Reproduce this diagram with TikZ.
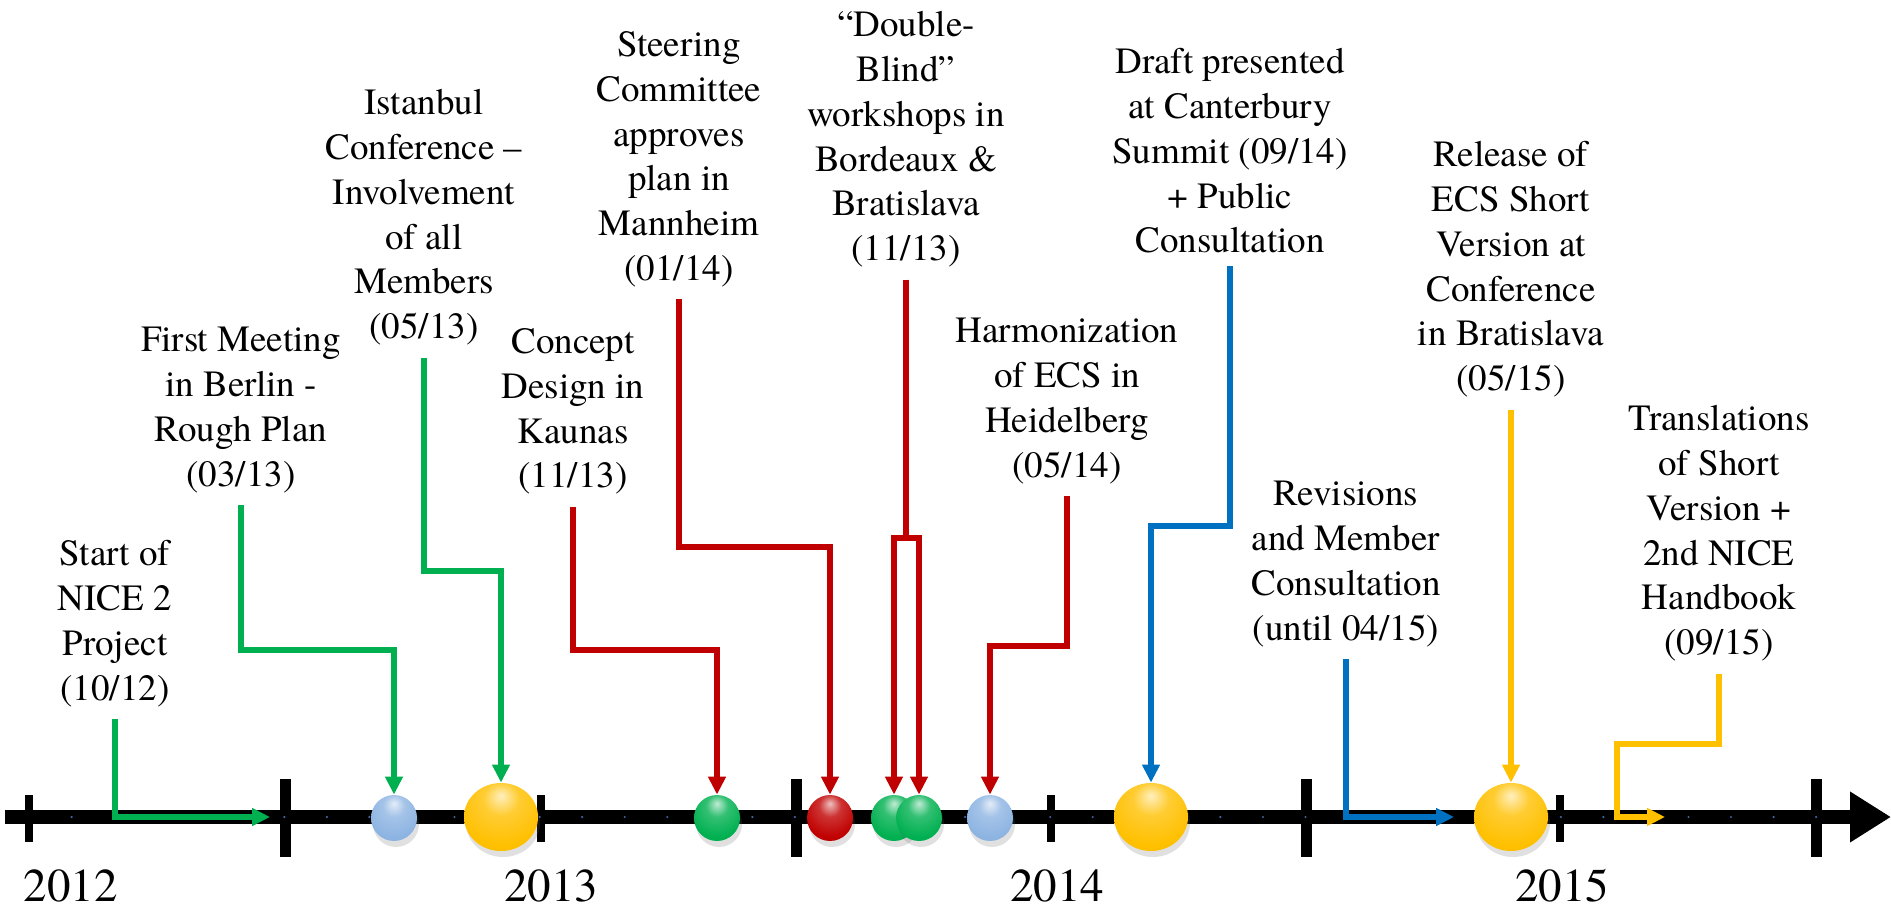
\documentclass[tikz,border=0pt]{standalone}
\usepackage{fontspec}
\setmainfont{texgyretermes}[Extension=.otf,UprightFont=*-regular,BoldFont=*-bold,ItalicFont=*-italic,BoldItalicFont=*-bolditalic]
\usetikzlibrary{arrows.meta,shapes.geometric,shadows,positioning}

\definecolor{nicegreen}{RGB}{0,176,80}
\definecolor{nicered}{RGB}{192,0,0}
\definecolor{niceblue}{RGB}{0,112,192}
\definecolor{niceyellow}{RGB}{255,192,0}
\definecolor{ballblue}{RGB}{141,180,226}
\definecolor{dotblue}{RGB}{70,100,160}

% glossy ball, lighter than the ball shading of tikz
\makeatletter
\pgfdeclareradialshading[tikz@ball]{glossball}{\pgfqpoint{0bp}{16bp}}{%
  color(0bp)=(tikz@ball!25!white);
  color(12bp)=(tikz@ball!80!white);
  color(30bp)=(tikz@ball);
  color(55bp)=(tikz@ball!92!black);
  color(70bp)=(tikz@ball!80!black)}
\makeatother

\tikzset{
  event/.style={align=center,inner sep=6pt,font=\fontsize{18.5}{22.4}\selectfont},
  yearlabel/.style={anchor=base,inner sep=0pt,font=\fontsize{23.5}{28}\selectfont},
  conn/.style={draw=#1,line width=2.7pt,-{Triangle[width=8.5pt,length=9pt]}},
  ballshadow/.style={drop shadow={shadow xshift=1pt,shadow yshift=-3pt,opacity=.2,fill=black!60}},
  smallball/.style={circle,minimum size=23pt,inner sep=0pt,ball color=#1,shading=glossball,ballshadow},
  bigball/.style={ellipse,minimum width=37pt,minimum height=34pt,inner sep=0pt,ball color=#1,shading=glossball,ballshadow},
  smalltick/.style={line width=4pt},
  talltick/.style={line width=5.5pt}
}

\begin{document}
\begin{tikzpicture}[x=0.5pt,y=-0.5pt]
    \useasboundingbox (0,0) rectangle (1891,908);

    % time line
    \draw[line width=7pt,-{Triangle[width=24pt,length=20.5pt]}] (5,817) -- (1891,817);
    \foreach \x in {29,541,1051,1560}
      \draw[smalltick] (\x,795) -- (\x,842);
    \foreach \x in {285,796,1306,1816}
      \draw[talltick] (\x,779) -- (\x,857);
    % month marks
    \foreach \k in {1,...,42}
      \fill[dotblue] (29+42.55*\k,817) circle (0.6pt);

    % years
    \node[yearlabel] (y2012) at (71,901) {2012};
    \node[yearlabel] (y2013) at (551,901) {2013};
    \node[yearlabel] (y2014) at (1057,901) {2014};
    \node[yearlabel] (y2015) at (1562,901) {2015};

    % events
    \node[event,below] (start) at (115,528) {Start of\\NICE 2\\Project\\(10/12)};
    \node[event,below] (first) at (241,315) {First Meeting\\in Berlin -\\Rough Plan\\(03/13)};
    \node[event,below] (istanbul) at (424,77) {Istanbul\\Conference –\\Involvement\\of all\\Members\\(05/13)};
    \node[event,below] (concept) at (573,316) {Concept\\Design in\\Kaunas\\(11/13)};
    \node[event,below] (steering) at (679,19) {Steering\\Committee\\approves\\plan in\\Mannheim\\(01/14)};
    \node[event,below] (double) at (906,-1) {“Double-\\Blind”\\workshops in\\Bordeaux \&\\Bratislava\\(11/13)};
    \node[event,below] (harm) at (1067,306) {Harmonization\\of ECS in\\Heidelberg\\(05/14)};
    \node[event,below] (draft) at (1230,36) {Draft presented\\at Canterbury\\Summit (09/14)\\+ Public\\Consultation};
    \node[event,below] (revis) at (1346,469) {Revisions\\and Member\\Consultation\\(until 04/15)};
    \node[event,below] (release) at (1511,129) {Release of\\ECS Short\\Version at\\Conference\\in Bratislava\\(05/15)};
    \node[event,below] (transl) at (1719,393) {Translations\\of Short\\Version +\\2nd NICE\\Handbook\\(09/15)};

    % bend levels and free ends
    \coordinate (firstlvl) at (0,650);
    \coordinate (istanbullvl) at (0,571);
    \coordinate (conceptlvl) at (0,650);
    \coordinate (steeringlvl) at (0,547);
    \coordinate (doublelvl) at (0,538);
    \coordinate (harmlvl) at (0,646);
    \coordinate (draftlvl) at (0,526);
    \coordinate (transllvl) at (1617,744);
    \coordinate (startend) at (270,817);
    \coordinate (revisend) at (1454,817);
    \coordinate (translend) at (1665,817);

    % balls
    \node[smallball=ballblue] (bblue1) at (394,818) {};
    \node[bigball=niceyellow] (byellow1) at (501,817) {};
    \node[smallball=nicegreen] (bgreen1) at (717,818) {};
    \node[smallball=nicered] (bred) at (830,818) {};
    \node[smallball=nicegreen] (bgreen2) at (894,818) {};
    \node[smallball=nicegreen] (bgreen3) at (919,818) {};
    \node[smallball=ballblue] (bblue2) at (990,818) {};
    \node[bigball=niceyellow] (byellow2) at (1151,817) {};
    \node[bigball=niceyellow] (byellow3) at (1511,817) {};

    % connectors 2012/2013
    \draw[conn=nicegreen] (start.south) |- (startend);
    \draw[conn=nicegreen] (first.south) -- (first.south |- firstlvl) -| (bblue1.north);
    \draw[conn=nicegreen] (istanbul.south) -- (istanbul.south |- istanbullvl) -| (byellow1.north);
    \draw[conn=nicered] (concept.south) -- (concept.south |- conceptlvl) -| (bgreen1.north);
    \draw[conn=nicered] (steering.south) -- (steering.south |- steeringlvl) -| (bred.north);
    \draw[conn=nicered] (double.south) |- (bgreen2.north |- doublelvl) -- (bgreen2.north);
    \draw[conn=nicered] (double.south) |- (bgreen3.north |- doublelvl) -- (bgreen3.north);
    \draw[conn=nicered] (harm.south) -- (harm.south |- harmlvl) -| (bblue2.north);

    % connectors 2014/2015
    \draw[conn=niceblue] (draft.south) -- (draft.south |- draftlvl) -| (byellow2.north);
    \draw[conn=niceblue] (revis.south) |- (revisend);
    \draw[conn=niceyellow] (release.south) -- (byellow3.north);
    \draw[conn=niceyellow] (transl.south) |- (transllvl) |- (translend);
\end{tikzpicture}
\end{document}
